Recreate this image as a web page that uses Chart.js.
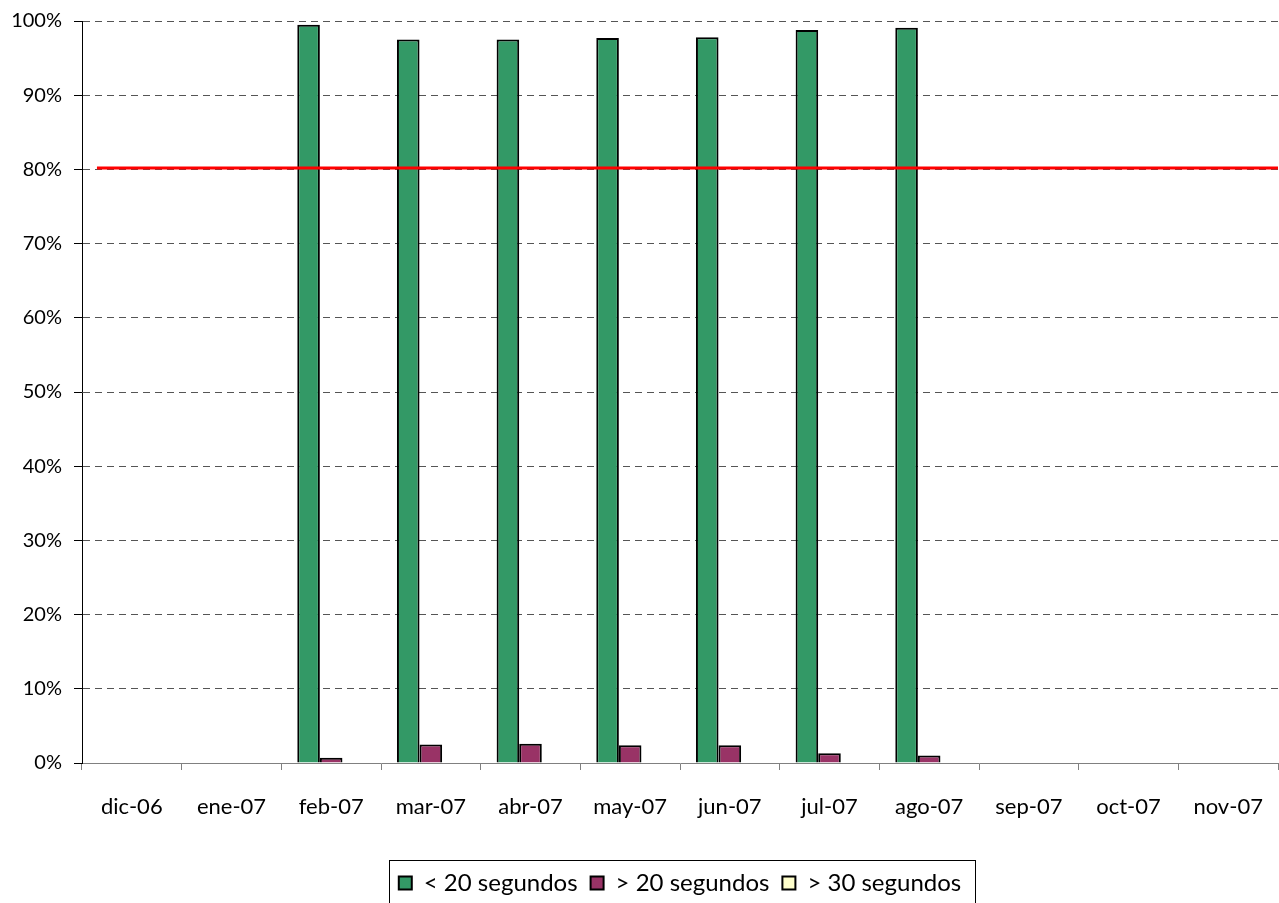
<!DOCTYPE html>
<html>
<head>
<meta charset="utf-8">
<script src="https://cdn.jsdelivr.net/npm/chart.js@4/dist/chart.umd.min.js"></script>
<style>
  html, body { margin: 0; padding: 0; background: #fff; overflow: hidden; }
  #wrap { width: 1279px; height: 905px; }
</style>
</head>
<body>
<div id="wrap"><canvas id="chart" width="1279" height="905"></canvas></div>
<script>
// Datos
const months = ['dic-06', 'ene-07', 'feb-07', 'mar-07', 'abr-07', 'may-07', 'jun-07', 'jul-07', 'ago-07', 'sep-07', 'oct-07', 'nov-07'];
const under20 = [null, null, 99.5, 97.5, 97.5, 97.7, 97.8, 98.8, 99.1, null, null, null];
const over20 = [null, null, 0.7, 2.5, 2.6, 2.4, 2.4, 1.3, 1.0, null, null, null];
const over30 = [null, null, null, null, null, null, null, null, null, null, null, null];
const target = 80.2;
const targetSpan = [-0.35, 11.5]; // inicio y fin de la linea, en indice de categoria
const yTicks = [0, 10, 20, 30, 40, 50, 60, 70, 80, 90, 100];

const FONT = 'Lato, "Open Sans", sans-serif';

// Linea roja del objetivo (80%), dibujada con las escalas del grafico
const targetLine = {
    id: 'targetLine',
    afterDatasetsDraw(chart) {
        const x = chart.scales.x, y = chart.scales.y;
        const py = y.getPixelForValue(target);
        const ctx = chart.ctx;
        ctx.save();
        ctx.strokeStyle = '#FF0000';
        ctx.lineWidth = 3;
        ctx.beginPath();
        ctx.moveTo(x.getPixelForValue(targetSpan[0]), py);
        ctx.lineTo(x.getPixelForValue(targetSpan[1]), py);
        ctx.stroke();
        ctx.restore();
    }
};

// Recuadro alrededor de la leyenda
const legendBox = {
    id: 'legendBox',
    afterDraw(chart) {
        const boxes = chart.legend && chart.legend.legendHitBoxes;
        if (!boxes || !boxes.length) return;
        const left = Math.min(...boxes.map(b => b.left)) - 10;
        const right = Math.max(...boxes.map(b => b.left + b.width)) + 14;
        const top = Math.min(...boxes.map(b => b.top)) - 11;
        const bottom = Math.max(...boxes.map(b => b.top + b.height)) + 14;
        const ctx = chart.ctx;
        ctx.save();
        ctx.strokeStyle = '#000';
        ctx.lineWidth = 1;
        ctx.strokeRect(Math.round(left) + 0.5, Math.round(top) + 0.5, Math.round(right - left), Math.round(bottom - top));
        ctx.restore();
    }
};

new Chart(document.getElementById('chart'), {
    type: 'bar',
    data: {
        labels: months,
        datasets: [
            {
                label: '< 20 segundos',
                data: under20,
                backgroundColor: '#339966',
                borderColor: '#000',
                borderWidth: 2
            },
            {
                label: '> 20 segundos',
                data: over20,
                backgroundColor: '#993366',
                borderColor: '#000',
                borderWidth: 2
            },
            {
                label: '> 30 segundos',
                data: over30,
                backgroundColor: '#FFFFCC',
                borderColor: '#000',
                borderWidth: 2
            }
        ]
    },
    options: {
        responsive: false,
        animation: false,
        devicePixelRatio: 1,
        layout: { padding: { top: 21, right: 1, left: 0, bottom: 0 } },
        datasets: {
            bar: { categoryPercentage: 0.68, barPercentage: 1.0 }
        },
        plugins: {
            title: { display: false },
            tooltip: { enabled: false },
            legend: {
                position: 'bottom',
                fullSize: false,
                labels: {
                    color: '#000',
                    font: { family: FONT, size: 24 },
                    boxWidth: 13,
                    boxHeight: 13,
                    padding: 13
                }
            }
        },
        scales: {
            x: {
                offset: true,
                grid: {
                    offset: true,
                    drawOnChartArea: false,
                    drawTicks: true,
                    tickLength: 7,
                    color: '#808080'
                },
                border: { color: '#808080', width: 1 },
                ticks: {
                    color: '#000',
                    font: { family: FONT, size: 22 },
                    padding: 24,
                    maxRotation: 0,
                    autoSkip: false
                },
                afterFit: scale => {
                    scale.height = 95;
                    scale.paddingLeft = 0;
                    scale.paddingRight = 0;
                }
            },
            y: {
                min: 0,
                max: 100,
                afterBuildTicks: scale => { scale.ticks = yTicks.map(v => ({ value: v })); },
                grid: {
                    color: '#555',
                    tickLength: 8,
                    tickColor: '#000',
                    tickBorderDash: []
                },
                border: { color: '#000', width: 1, dash: [7, 5] },
                ticks: {
                    color: '#000',
                    font: { family: FONT, size: 20 },
                    padding: 12,
                    callback: v => v + '%'
                },
                afterFit: scale => {
                    scale.width = 82;
                    scale.paddingTop = 0;
                    scale.paddingBottom = 0;
                }
            }
        }
    },
    plugins: [targetLine, legendBox]
});
</script>
</body>
</html>
